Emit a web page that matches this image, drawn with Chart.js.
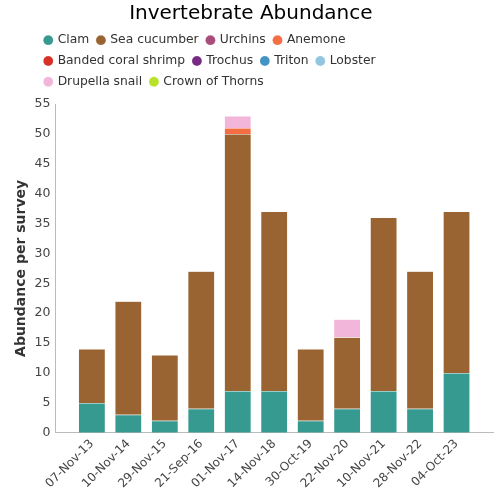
<!DOCTYPE html>
<html><head><meta charset="utf-8">
<script src="https://cdn.jsdelivr.net/npm/chart.js@4"></script>
<style>html,body{margin:0;padding:0;background:#fff}#w{width:500px;height:500px}</style>
</head><body><div id="w"><canvas id="c"></canvas></div>
<script>
const categories = ["07-Nov-13","10-Nov-14","29-Nov-15","21-Sep-16","01-Nov-17","14-Nov-18","30-Oct-19","22-Nov-20","10-Nov-21","28-Nov-22","04-Oct-23"];
const clam = [5,3,2,4,7,7,2,4,7,4,10];
const seaCucumber = [9,19,11,23,43,30,12,12,29,23,27];
const urchins = [0,0,0,0,0,0,0,0,0,0,0];
const anemone = [0,0,0,0,1,0,0,0,0,0,0];
const bandedCoralShrimp = [0,0,0,0,0,0,0,0,0,0,0];
const trochus = [0,0,0,0,0,0,0,0,0,0,0];
const triton = [0,0,0,0,0,0,0,0,0,0,0];
const lobster = [0,0,0,0,0,0,0,0,0,0,0];
const drupellaSnail = [0,0,0,0,2,0,0,3,0,0,0];
const crownOfThorns = [0,0,0,0,0,0,0,0,0,0,0];
const yTicks = [0,5,10,15,20,25,30,35,40,45,50,55];

const series = [
 ["Clam", clam, "#369a90"],
 ["Sea cucumber", seaCucumber, "#9a6432"],
 ["Urchins", urchins, "#a84c7c"],
 ["Anemone", anemone, "#f46d43"],
 ["Banded coral shrimp", bandedCoralShrimp, "#d73027"],
 ["Trochus", trochus, "#762a83"],
 ["Triton", triton, "#4393c3"],
 ["Lobster", lobster, "#92c5de"],
 ["Drupella snail", drupellaSnail, "#f1b6da"],
 ["Crown of Thorns", crownOfThorns, "#b8e12a"]
];
// empty slot at each end of the category axis (the reference leaves a gap there)
const labels = [""].concat(categories, [""]);
const pad = arr => [null].concat(arr, [null]);

const LEGEND_LEFT = 36.5, LEGEND_WIDTH = 400;
const legendLayout = {
 id: 'legendLayout',
 beforeLayout(chart) {
  const lg = chart.legend;
  if (lg && !lg._patched && typeof lg._fitRows === 'function') {
   const orig = lg._fitRows;
   lg._fitRows = function(...a) {
    const mw = this.maxWidth; this.maxWidth = LEGEND_WIDTH;
    const r = orig.apply(this, a);
    this.maxWidth = mw;
    return r + 6.1;
   };
   lg._patched = true;
  }
 },
 afterLayout(chart) {
  if (chart.legend) { chart.legend.left = LEGEND_LEFT; chart.legend.right = LEGEND_LEFT + LEGEND_WIDTH; }
 }
};

Chart.defaults.font.family = "'DejaVu Sans', sans-serif";
new Chart(document.getElementById('c'), {
 type: 'bar',
 data: { labels: labels, datasets: series.map(s => ({label: s[0], data: pad(s[1]), backgroundColor: s[2], borderColor: 'rgba(255,255,255,0.3)', borderWidth: 0.5, barPercentage: 0.92, categoryPercentage: 0.8})) },
 options: {
  responsive: true, maintainAspectRatio: false, animation: false,
  layout: {padding: {left: 8.7, right: 7, top: 0, bottom: 5}},
  plugins: {
   title: {display: true, text: 'Invertebrate Abundance', color: '#000', font: {size: 20, weight: 'normal'}, padding: {top: 1.5, bottom: 0}},
   legend: {align: 'start', labels: {usePointStyle: true, pointStyle: 'circle', boxWidth: 6.5, boxHeight: 7, padding: 8.5, color: '#333', font: {size: 12.3}}},
   tooltip: {enabled: false}
  },
  scales: {
   x: {stacked: true, offset: false, grid: {display: false, drawTicks: false}, border: {color: '#bbb'},
       afterFit: s => { s.paddingLeft = 0; s.paddingRight = 0; },
       ticks: {color: '#444', font: {size: 12}, padding: 4, maxRotation: 45, minRotation: 45, autoSkip: false}},
   y: {stacked: true, min: 0, max: 55, grid: {display: false, drawTicks: false}, border: {color: '#bbb'},
       afterBuildTicks: a => { a.ticks = yTicks.map(v => ({value: v})); },
       ticks: {color: '#444', font: {size: 12.5}, padding: 5},
       title: {display: true, text: 'Abundance per survey', color: '#333', font: {size: 14, weight: 'bold'}, padding: {top: 4, bottom: 0}}}
  }
 },
 plugins: [legendLayout]
});
</script></body></html>
